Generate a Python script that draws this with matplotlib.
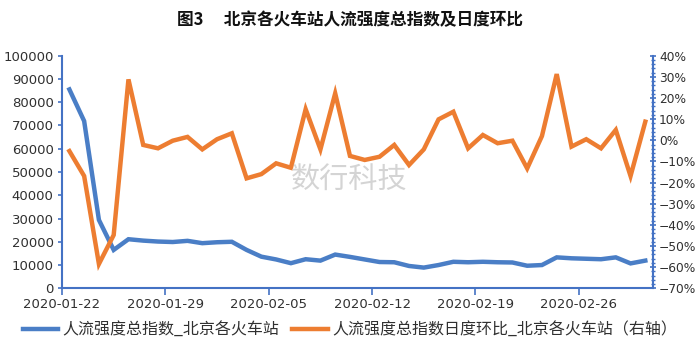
import matplotlib
matplotlib.use("Agg")
import matplotlib.pyplot as plt
from matplotlib.ticker import MultipleLocator, FuncFormatter, FixedLocator
import numpy as np

plt.rcParams['font.family'] = ['Noto Sans CJK SC', 'DejaVu Sans']

# ---- data ----
dates = ['01-22', '01-23', '01-24', '01-25', '01-26', '01-27', '01-28', '01-29', '01-30', '01-31',
         '02-01', '02-02', '02-03', '02-04', '02-05', '02-06', '02-07', '02-08', '02-09', '02-10',
         '02-11', '02-12', '02-13', '02-14', '02-15', '02-16', '02-17', '02-18', '02-19', '02-20',
         '02-21', '02-22', '02-23', '02-24', '02-25', '02-26', '02-27', '02-28', '02-29', '03-01']
index_total = [85500, 71900, 29400, 16500, 21100, 20500, 20100, 19900, 20400, 19400,
               19800, 20000, 16500, 13600, 12400, 10800, 12500, 11900, 14500, 13500,
               12400, 11300, 11200, 9600, 8900, 10000, 11400, 11200, 11400, 11200,
               11100, 9700, 10000, 13300, 12900, 12700, 12500, 13300, 10700, 11900]
dod_pct = [-5.1, -16.9, -58.5, -44.8, 28.8, -2.2, -3.8, -0.2, 1.6, -4.3,
           0.5, 3.3, -18.0, -16.0, -10.9, -13.0, 14.7, -4.3, 22.2, -7.4,
           -9.3, -7.8, -2.2, -11.7, -4.3, 9.9, 13.5, -3.8, 2.5, -1.4,
           -0.2, -13.3, 2.0, 31.3, -3.0, 0.5, -3.8, 4.9, -16.9, 8.8]
tick_labels = ['2020-01-22', '2020-01-29', '2020-02-05', '2020-02-12', '2020-02-19', '2020-02-26']
name_left = '人流强度总指数_北京各火车站'
name_right = '人流强度总指数日度环比_北京各火车站（右轴）'
title = '图3\u3000 北京各火车站人流强度总指数及日度环比'

BLUE = '#4A7EC6'
ORANGE = '#ED7D31'
AXC = '#4472C4'
TXT = '#303030'

x = np.arange(len(dates))

fig = plt.figure(figsize=(7, 3.6), dpi=100)
ax = fig.add_axes([62/700, 1-288.3/360, (652.7-62)/700, (288.3-55.7)/360])
ax2 = ax.twinx()

l1, = ax.plot(x, index_total, color=BLUE, lw=3.2, solid_joinstyle='miter')
l2, = ax2.plot(x, dod_pct, color=ORANGE, lw=3.2, solid_joinstyle='miter')

ax.set_xlim(-0.5, len(dates) - 0.5)
ax.set_ylim(0, 100000)
ax.yaxis.set_major_locator(MultipleLocator(10000))
ax.yaxis.set_major_formatter(FuncFormatter(lambda v, p: f'{int(v)}'))
ax2.set_ylim(-70, 40)
ax2.yaxis.set_major_locator(MultipleLocator(10))
ax2.yaxis.set_minor_locator(MultipleLocator(2))
ax2.yaxis.set_major_formatter(FuncFormatter(lambda v, p: f'{int(round(v))}%'.replace('-', '\u2212')))

tick_pos = [dates.index(t[5:]) - 0.5 for t in tick_labels]
ax.xaxis.set_major_locator(FixedLocator(tick_pos))
ax.set_xticklabels(tick_labels)

for a in (ax, ax2):
    for s in a.spines.values():
        s.set_visible(False)
ax.spines['left'].set_visible(True)
ax.spines['bottom'].set_visible(True)
ax2.spines['right'].set_visible(True)
for s in (ax.spines['left'], ax.spines['bottom'], ax2.spines['right']):
    s.set_color(AXC)
    s.set_linewidth(1.5)

ax.tick_params(axis='x', direction='out', length=5, width=1.2, color=AXC,
               labelsize=9.5, labelcolor=TXT, pad=2)
ax.tick_params(axis='y', direction='out', length=3, width=1.2, color=AXC,
               labelsize=9.5, labelcolor=TXT, pad=3)
ax2.tick_params(axis='y', which='major', direction='inout', length=5, width=1.2, color=AXC,
                labelsize=8.8, labelcolor=TXT, pad=2)
ax2.tick_params(axis='y', which='minor', direction='inout', length=3, width=1.0, color=AXC)
for lab in ax.get_xticklabels() + ax.get_yticklabels() + ax2.get_yticklabels():
    lab.set_family(['DejaVu Sans'])

fig.text(0.5, 1-20/360, title, ha='center', va='center', fontsize=12, fontweight='bold', color='#111111')
fig.text(349/700, 1-180/360, '数行科技', ha='center', va='center', fontsize=21,
         color='#d4d4d4', fontweight='light', zorder=0)

fig.legend([l1, l2], [name_left, name_right], loc='center', bbox_to_anchor=(0.5, 1-330/360),
           ncol=2, frameon=False, fontsize=11.5, handlelength=2.2, handletextpad=0.3,
           columnspacing=0.8, labelcolor=TXT)

fig.savefig('out.png', dpi=100)
